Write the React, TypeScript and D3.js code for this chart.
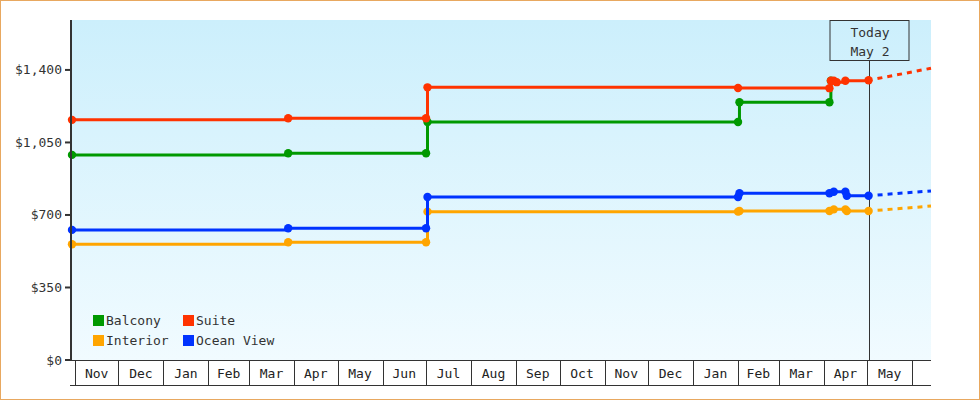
import { useEffect, useRef } from 'react'
import * as d3 from 'd3'

// price history per cabin type (step data)
const balconyDates = ['2016-10-30', '2017-03-28', '2017-07-01', '2017-07-02', '2018-02-01', '2018-02-02', '2018-04-05', '2018-04-06']
const balconyPrices = [990, 998, 998, 1149, 1149, 1244, 1244, 1348]

const suiteDates = ['2016-10-30', '2017-03-28', '2017-07-01', '2017-07-02', '2018-02-01', '2018-04-05', '2018-04-06', '2018-04-08', '2018-04-10', '2018-04-16', '2018-05-02']
const suitePrices = [1159, 1167, 1167, 1316, 1313, 1312, 1348, 1348, 1341, 1348, 1350]

const interiorDates = ['2016-10-30', '2017-03-28', '2017-07-01', '2017-07-02', '2018-02-01', '2018-02-02', '2018-04-05', '2018-04-08', '2018-04-16', '2018-04-17', '2018-05-02']
const interiorPrices = [559, 568, 568, 716, 716, 719, 719, 727, 727, 719, 719]

const oceanDates = ['2016-10-30', '2017-03-28', '2017-07-01', '2017-07-02', '2018-02-01', '2018-02-02', '2018-04-05', '2018-04-08', '2018-04-16', '2018-04-17', '2018-05-02']
const oceanPrices = [628, 636, 636, 787, 787, 805, 805, 812, 812, 793, 793]

// projected prices after today
const forecastDates = ['2018-05-02', '2018-06-14']
const suiteForecast = [1350, 1408]
const interiorForecast = [719, 743]
const oceanForecast = [793, 816]

const yTicks = [0, 350, 700, 1050, 1400]
const todayDate = '2018-05-02'
const todayLabel = ['Today', 'May 2']

const W = 980
const H = 400
const FONT = '"DejaVu Sans Mono", monospace'

export default function App() {
  const svgRef = useRef<SVGSVGElement>(null)

  useEffect(() => {
    if (!svgRef.current) return
    const svg = d3.select(svgRef.current)
    svg.selectAll('*').remove()

    const parse = d3.utcParse('%Y-%m-%d')
    const left = 72
    const right = 931
    const top = 20
    const bottom = 360

    const x = d3.scaleUtc()
      .domain([parse('2016-10-30')!, parse('2018-06-14')!])
      .range([left, right])
    const y = d3.scaleLinear().domain([0, 1641]).range([bottom, top])

    const series = [
      { name: 'Balcony', color: '#009900', dates: balconyDates, prices: balconyPrices, fDates: [] as string[], fPrices: [] as number[] },
      { name: 'Suite', color: '#ff3300', dates: suiteDates, prices: suitePrices, fDates: forecastDates, fPrices: suiteForecast },
      { name: 'Interior', color: '#ffa500', dates: interiorDates, prices: interiorPrices, fDates: forecastDates, fPrices: interiorForecast },
      { name: 'Ocean View', color: '#0033ff', dates: oceanDates, prices: oceanPrices, fDates: forecastDates, fPrices: oceanForecast }
    ]

    // background
    const defs = svg.append('defs')
    const grad = defs.append('linearGradient')
      .attr('id', 'plotBg')
      .attr('x1', '0%').attr('y1', '0%')
      .attr('x2', '0%').attr('y2', '100%')
    grad.append('stop').attr('offset', '0%').attr('stop-color', '#cceffc')
    grad.append('stop').attr('offset', '100%').attr('stop-color', '#f1fbff')

    svg.append('rect')
      .attr('x', 0.5).attr('y', 0.5)
      .attr('width', W - 1).attr('height', H - 1)
      .attr('fill', '#fff')
      .attr('stroke', '#e8a860')

    svg.append('rect')
      .attr('x', left).attr('y', top)
      .attr('width', right - left).attr('height', bottom - top)
      .attr('fill', 'url(#plotBg)')

    // today marker line
    const tx = Math.round(x(parse(todayDate)!)) + 0.5
    svg.append('line')
      .attr('x1', tx).attr('x2', tx)
      .attr('y1', 60).attr('y2', bottom)
      .attr('stroke', '#333')
      .attr('stroke-width', 1)

    const line = d3.line<[Date, number]>()
      .x(d => x(d[0]))
      .y(d => y(d[1]))
      .curve(d3.curveStepAfter)

    const fLine = d3.line<[Date, number]>()
      .x(d => x(d[0]))
      .y(d => y(d[1]))

    series.forEach(s => {
      const pts: [Date, number][] = s.dates.map((d, i) => [parse(d)!, s.prices[i]])
      const fPts: [Date, number][] = s.fDates.map((d, i) => [parse(d)!, s.fPrices[i]])
      const g = svg.append('g')

      if (fPts.length) {
        g.append('path')
          .attr('d', fLine(fPts))
          .attr('fill', 'none')
          .attr('stroke', s.color)
          .attr('stroke-width', 3)
          .attr('stroke-dasharray', '0,9,5,5,5,5,5,5,5,5,5,5,5,5,5,5,5,5,5,5,5,5,5,5,5,5')
      }

      g.append('path')
        .attr('d', line(pts))
        .attr('fill', 'none')
        .attr('stroke', s.color)
        .attr('stroke-width', 3)

      g.selectAll('circle')
        .data(pts)
        .join('circle')
        .attr('cx', d => x(d[0]))
        .attr('cy', d => y(d[1]))
        .attr('r', 4.2)
        .attr('fill', s.color)
    })

    // legend
    const legend = svg.append('g').attr('font-family', FONT).attr('font-size', 13).attr('fill', '#333')
    series.forEach((s, i) => {
      const lx = i === 0 || i === 2 ? 93 : 183
      const ly = i < 2 ? 315 : 335
      legend.append('rect')
        .attr('x', lx).attr('y', ly)
        .attr('width', 11).attr('height', 11)
        .attr('fill', s.color)
      legend.append('text')
        .attr('x', lx + 13).attr('y', ly + 10)
        .text(s.name)
    })

    // y axis
    const yAxis = svg.append('g')
    yAxis.append('line')
      .attr('x1', 71).attr('x2', 71)
      .attr('y1', top).attr('y2', bottom + 1)
      .attr('stroke', '#333').attr('stroke-width', 2)
    yTicks.forEach(v => {
      yAxis.append('line')
        .attr('x1', 65).attr('x2', 71)
        .attr('y1', y(v)).attr('y2', y(v))
        .attr('stroke', '#333').attr('stroke-width', 2)
      yAxis.append('text')
        .attr('x', 62).attr('y', y(v) + 4.5)
        .attr('text-anchor', 'end')
        .attr('font-family', FONT).attr('font-size', 13)
        .attr('fill', '#333')
        .text(d3.format('$,')(v))
    })

    // month cells
    const mAxis = svg.append('g')
    const [d0, d1] = x.domain()
    const bounds = d3.utcMonth.range(d3.utcMonth.ceil(d0), d1)
    mAxis.append('line')
      .attr('x1', 71).attr('x2', right)
      .attr('y1', bottom + 0.5).attr('y2', bottom + 0.5)
      .attr('stroke', '#333')
    mAxis.append('line')
      .attr('x1', 70).attr('x2', right)
      .attr('y1', 385.5).attr('y2', 385.5)
      .attr('stroke', '#333')
    bounds.forEach((b, i) => {
      const bx = Math.round(x(b)) + 0.5
      mAxis.append('line')
        .attr('x1', bx).attr('x2', bx)
        .attr('y1', bottom).attr('y2', 385)
        .attr('stroke', '#333')
      const next = bounds[i + 1]
      if (next) {
        mAxis.append('text')
          .attr('x', (x(b) + x(next)) / 2)
          .attr('y', 378)
          .attr('text-anchor', 'middle')
          .attr('font-family', FONT).attr('font-size', 13)
          .attr('fill', '#222')
          .text(d3.utcFormat('%b')(b))
      }
    })

    // today box
    svg.append('rect')
      .attr('x', tx - 39.5).attr('y', 20.5)
      .attr('width', 79).attr('height', 40)
      .attr('fill', 'none')
      .attr('stroke', '#333')
    todayLabel.forEach((t, i) => {
      svg.append('text')
        .attr('x', tx + 0.5).attr('y', 37 + i * 19)
        .attr('text-anchor', 'middle')
        .attr('font-family', FONT).attr('font-size', 13)
        .attr('fill', '#333')
        .text(t)
    })
  }, [])

  return (
    <svg
      ref={svgRef}
      width={W}
      height={H}
      style={{ position: 'absolute', left: 0, top: 0, display: 'block' }}
    />
  )
}
